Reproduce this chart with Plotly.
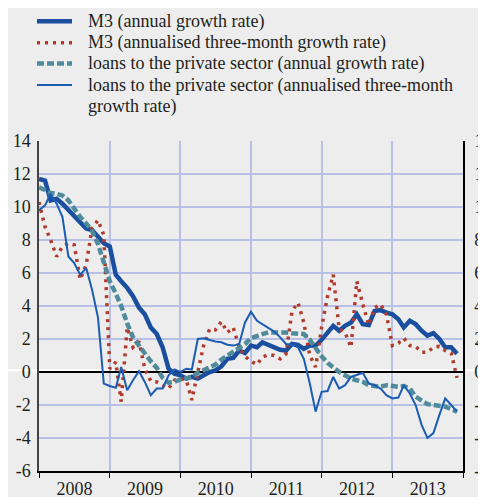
import plotly.graph_objects as go
import pandas as pd

# monthly observations, Jan 2008 - Dec 2013
months = pd.date_range("2008-01-01", periods=72, freq="MS")

m3_annual = [
    11.7, 11.6, 10.4, 10.5, 10.2, 9.8, 9.4, 9.0, 8.7, 8.6, 8.2, 7.8,
    7.6, 5.9, 5.5, 5.1, 4.6, 3.9, 3.5, 2.7, 2.3, 1.5, 0.2, -0.1,
    -0.2, -0.4, -0.3, -0.4, -0.2, 0.0, 0.1, 0.35, 0.8, 0.85, 1.3, 1.15,
    1.6, 1.5, 1.8, 1.65, 1.5, 1.35, 1.3, 1.7, 1.65, 1.4, 1.6, 1.6,
    1.95, 2.4, 2.8, 2.5, 2.8, 3.0, 3.5, 2.9, 2.85, 3.7, 3.75, 3.6,
    3.5, 3.2, 2.7, 3.1, 2.9, 2.5, 2.2, 2.35, 2.0, 1.5, 1.5, 1.1,
]

m3_three_month = [
    10.3, 8.8, 8.0, 7.0, 7.6, 7.8, 7.7, 5.6, 6.5, 8.7, 9.2, 8.3,
    0.2, 0.6, -1.8, 2.7, 1.5, 1.85, 0.2, -0.55, -0.6, -0.8, -1.0, -0.5,
    -0.4, -0.5, -1.7, 0.0, 1.6, 2.6, 2.55, 3.05, 2.4, 2.7, 1.5, 0.95,
    0.65, 0.45, 0.9, 1.05, 1.0, 0.8, 1.1, 3.7, 4.2, 3.0, 1.0, 0.3,
    2.7, 4.6, 5.9, 2.6, 2.4, 1.5, 5.5, 4.1, 2.85, 3.9, 4.1, 3.5,
    1.6, 1.75, 2.05, 1.6, 1.55, 1.2, 1.2, 1.5, 1.55, 1.3, 1.15, -0.35,
]

loans_annual = [
    11.2, 11.05, 10.85, 10.8, 10.7, 10.4, 9.85, 9.4, 9.0, 8.55, 7.75, 6.7,
    5.5, 4.75, 4.0, 2.95, 2.1, 1.6, 1.1, 0.65, 0.25, -0.35, -0.65, -0.6,
    -0.45, -0.35, -0.3, -0.05, 0.1, 0.25, 0.45, 0.75, 1.0, 1.25, 1.45, 1.7,
    2.05, 2.2, 2.3, 2.4, 2.4, 2.45, 2.4, 2.35, 2.35, 2.3, 1.95, 1.4,
    0.95, 0.55, 0.25, 0.0, -0.2, -0.4, -0.5, -0.6, -0.8, -0.85, -0.9, -0.8,
    -0.85, -0.9, -0.85, -1.0, -1.5, -1.75, -1.95, -2.0, -2.05, -2.1, -2.25, -2.4,
]

loans_three_month = [
    9.8, 10.1, 10.8, 10.2, 9.4, 7.0, 6.6, 5.9, 6.3, 5.0, 3.3, -0.7,
    -0.85, -0.95, 0.3, -1.1, -0.5, 0.05, -0.6, -1.4, -1.0, -1.0, -0.2, 0.15,
    0.0, 0.2, 0.15, 2.0, 2.05, 1.95, 1.85, 1.8, 1.65, 1.6, 1.7, 3.0,
    3.65, 3.1, 2.9, 2.65, 2.45, 2.1, 1.7, 1.65, 1.5, 0.8, -0.7, -2.4,
    -1.2, -1.15, -0.3, -1.0, -0.8, -0.3, -0.2, -0.05, -0.7, -0.8, -1.0, -1.4,
    -1.6, -1.55, -0.8, -1.3, -2.0, -3.2, -4.0, -3.7, -2.6, -1.6, -2.0, -2.4,
]

names = [
    "M3 (annual growth rate)",
    "M3 (annualised three-month growth rate)",
    "loans to the private sector (annual growth rate)",
    "loans to the private sector (annualised three-month",
]
name_wrap = "growth rate)"

y_ticks = [-6, -4, -2, 0, 2, 4, 6, 8, 10, 12, 14]
y_tick_labels = ["-6", "-4", "-2", "0", "2", "4", "6", "8", "10", "12", "14"]

bg = "#ecedec"
grid = "#b9c0e6"
font = "Liberation Serif"

styles = [
    dict(color="#1a4f9f", width=4.5),
    dict(color="#b23a2c", width=3.5, dash="3px,5px"),
    dict(color="#4f8b9b", width=4.5, dash="7px,3px"),
    dict(color="#1c5cb3", width=2),
]

# the page body adds an 8px margin, so the figure is laid out 8px up/left
OFF = 8
W, H = 486, 497
L, T = 39 - OFF, 141 - OFF
R = W - (463 - OFF)
B = H - (471.5 - OFF)


def px_x(p):
    return (p - OFF - L) / (W - L - R)


def px_y(p):
    return (H - B - (p - OFF)) / (H - T - B)


fig = go.Figure()
for vals, name, line in zip([m3_annual, m3_three_month, loans_annual, loans_three_month], names, styles):
    fig.add_trace(go.Scatter(x=months, y=vals, name=name, mode="lines", line=line, showlegend=False))

# invisible copy so the right-hand axis gets drawn
fig.add_trace(go.Scatter(x=months, y=m3_annual, yaxis="y2", showlegend=False,
                         line=dict(width=0), hoverinfo="skip"))

# white rule across the whole width just above the zero line
fig.add_shape(type="line", xref="paper", x0=-0.2, x1=1.2, yref="y", y0=0.1, y1=0.1,
              line=dict(color="white", width=2), layer="below")

# legend drawn by hand so that spacing matches the print layout
rows = [21, 42.5, 63.5, 85]
for i, (name, line) in enumerate(zip(names, styles)):
    fig.add_shape(type="line", xref="paper", yref="paper",
                  x0=px_x(37), x1=px_x(72), y0=px_y(rows[i]), y1=px_y(rows[i]), line=line)
    fig.add_annotation(text=name, xref="paper", yref="paper", x=px_x(85.5), y=px_y(rows[i]),
                       xanchor="left", yanchor="middle", showarrow=False)
fig.add_annotation(text=name_wrap, xref="paper", yref="paper", x=px_x(85.5), y=px_y(106.5),
                   xanchor="left", yanchor="middle", showarrow=False)

fig.update_layout(
    width=W, height=H,
    margin=dict(l=L, r=R, t=T, b=B, autoexpand=False),
    paper_bgcolor=bg, plot_bgcolor="rgba(0,0,0,0)",
    font=dict(family=font, size=18, color="#231f20"),
    showlegend=False,
    xaxis=dict(type="date", range=["2008-01-01", "2014-01-01"], dtick="M12", tick0="2008-01-01",
               tickformat="%Y", ticklabelmode="period", ticks="outside", ticklen=5, tickcolor="black",
               showline=True, linecolor="black", linewidth=1.5, ticklabelstandoff=-4,
               showgrid=True, gridcolor=grid, gridwidth=1.5, zeroline=False),
    yaxis=dict(range=[-6, 14], tickvals=y_ticks, ticktext=y_tick_labels,
               showgrid=True, gridcolor=grid, gridwidth=1.5,
               showline=True, linecolor="#444444", linewidth=1.5,
               zeroline=True, zerolinecolor="black", zerolinewidth=1.5, ticklabelstandoff=3),
    yaxis2=dict(overlaying="y", side="right", range=[-6, 14], tickvals=y_ticks, ticktext=y_tick_labels,
                showgrid=False, showline=True, linecolor="black", linewidth=1.5, zeroline=False,
                ticklabelstandoff=6, ticklabeloverflow="allow"),
)

fig.write_html("out.html")
